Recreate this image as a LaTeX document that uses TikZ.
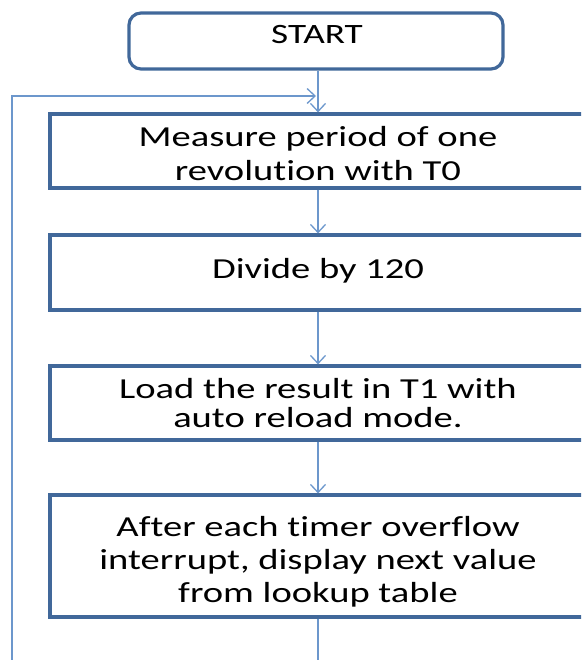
\documentclass[tikz,border=0pt]{standalone}
\usepackage{fontspec}
\setmainfont[FakeStretch=1.33, Ligatures={NoCommon,NoContextual}]{Carlito}
\usepackage{tikz}
\usetikzlibrary{arrows.meta,positioning}
\definecolor{boxline}{HTML}{41689A}
\definecolor{flowline}{HTML}{6C97CC}
\tikzset{
  procbox/.style={draw=boxline, line width=3.2pt, minimum width=536pt,
    inner sep=0pt},
  boxtext/.style={align=center, inner sep=0pt,
    font=\fontsize{29}{#1}\selectfont},
  boxtext/.default=34,
  flow/.style={draw=flowline, line width=1.3pt,
    -{Straight Barb[length=8pt,width=15pt,line width=1.3pt]}},
}

\begin{document}
\begin{tikzpicture}[x=1pt, y=-1pt]
\useasboundingbox (0,0) rectangle (581,660);
\clip (0,0) rectangle (581,660);

% boxes
\node[procbox, rounded corners=12pt, minimum width=374pt, minimum height=56pt]
  (start) at (316,41) {};
\node[procbox, minimum height=74pt] (measure) at (318,151) {};
\node[procbox, minimum height=75pt] (divide) at (318,272.5) {};
\node[procbox, minimum height=74pt] (load) at (318,403) {};
\node[procbox, minimum height=122pt] (display) at (318,556) {};

% texts
\node[boxtext, font=\fontsize{28}{32}\selectfont] (starttext) at (317,35) {START};
\node[boxtext] (measuretext) at (318,154)
  {Measure period of one\\revolution with T0};
\node[boxtext] (dividetext) at (318,270.5) {Divide by 120};
\node[boxtext=29] (loadtext) at (318,403)
  {Load the result in T1 with\\auto reload mode.};
\node[boxtext=33] (displaytext) at (318,562)
  {After each timer overflow\\interrupt, display next value\\from lookup table};

\coordinate (loopbottom) at (12,662);
\coordinate (looptop) at (12,96);
\coordinate (loopend) at (316,96);
\coordinate (endbottom) at (318,662);

\draw[flow] (start.south -| measure) -- (measure);
\draw[flow] (loopbottom) -- (looptop) -- (loopend);
\draw[flow] (measure) -- (divide);
\draw[flow] (divide) -- (load);
\draw[flow] (load) -- (display);
\draw[draw=flowline, line width=1.3pt] (display) -- (endbottom);
\end{tikzpicture}
\end{document}
